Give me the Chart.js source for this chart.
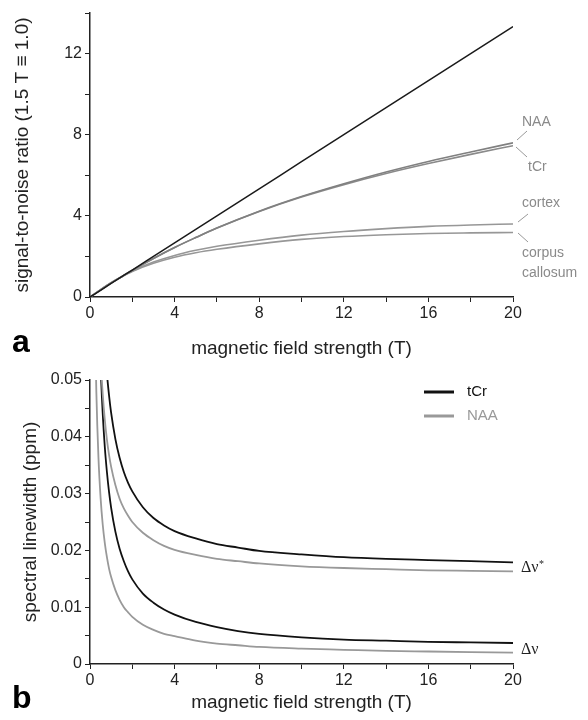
<!DOCTYPE html>
<html>
<head>
<meta charset="utf-8">
<script src="https://cdn.jsdelivr.net/npm/chart.js@4.4.1/dist/chart.umd.min.js"></script>
<style>
  html, body { margin: 0; padding: 0; background: #fff; }
  #wrap { position: relative; width: 588px; height: 720px; }
  .panel { position: absolute; left: 0; width: 588px; height: 360px; }
</style>
</head>
<body>
<div id="wrap">
  <div class="panel" style="top:0"><canvas id="snrChart"></canvas></div>
  <div class="panel" style="top:360px"><canvas id="lwChart"></canvas></div>
</div>
<script>
// panel a: SNR vs field strength
const snrField = [0, 0.5, 1, 1.5, 2, 3, 4, 5, 6, 8, 10, 12, 14, 16, 18, 20];
const snrLinear = [0, 0.33, 0.67, 1, 1.33, 2, 2.67, 3.33, 4, 5.33, 6.67, 8, 9.33, 10.67, 12, 13.33];
const snrNAA = [0, 0.35, 0.69, 1, 1.32, 1.9, 2.44, 2.93, 3.4, 4.23, 4.95, 5.58, 6.16, 6.68, 7.15, 7.6];
const snrTCr = [0, 0.35, 0.69, 1, 1.32, 1.9, 2.44, 2.93, 3.4, 4.22, 4.93, 5.54, 6.09, 6.58, 7.03, 7.46];
const snrCortex = [0, 0.36, 0.71, 1, 1.28, 1.72, 2.05, 2.3, 2.5, 2.8, 3.05, 3.23, 3.37, 3.48, 3.55, 3.6];
const snrCallosum = [0, 0.36, 0.71, 1, 1.26, 1.66, 1.96, 2.18, 2.35, 2.62, 2.84, 2.98, 3.07, 3.13, 3.16, 3.18];

// panel b: linewidth vs field strength
const lwField = [0.25, 0.3, 0.4, 0.5, 0.6, 0.7, 0.8, 0.9, 1, 1.2, 1.4, 1.6, 1.8, 2, 2.5, 3, 3.5, 4, 5, 6, 7, 8, 10, 12, 14, 16, 18, 20];
const lwStarTCr = [0.1272, 0.1087, 0.0857, 0.0718, 0.0626, 0.0560, 0.0511, 0.0473, 0.0442, 0.0396, 0.0363, 0.0338, 0.0319, 0.0304, 0.0276, 0.0257, 0.0244, 0.0234, 0.0221, 0.0211, 0.0205, 0.0199, 0.0193, 0.0188, 0.0185, 0.0183, 0.0181, 0.0179];
const lwStarNAA = [0.0928, 0.0799, 0.0638, 0.0541, 0.0476, 0.0430, 0.0395, 0.0368, 0.0347, 0.0315, 0.0291, 0.0274, 0.0261, 0.0250, 0.0231, 0.0218, 0.0208, 0.0201, 0.0192, 0.0185, 0.0181, 0.0177, 0.0172, 0.0169, 0.0167, 0.0165, 0.0164, 0.0163];
const lwTCr = [0.1028, 0.0860, 0.0651, 0.0526, 0.0442, 0.0382, 0.0338, 0.0303, 0.0275, 0.0233, 0.0203, 0.0181, 0.0163, 0.0149, 0.0124, 0.0108, 0.0096, 0.0087, 0.0074, 0.0065, 0.0058, 0.0053, 0.0047, 0.0043, 0.0041, 0.0039, 0.0038, 0.0037];
const lwNAA = [0.0572, 0.0479, 0.0363, 0.0293, 0.0246, 0.0213, 0.0188, 0.0168, 0.0153, 0.0130, 0.0113, 0.0100, 0.0091, 0.0083, 0.0069, 0.0060, 0.0053, 0.0049, 0.0041, 0.0036, 0.0033, 0.0030, 0.0027, 0.0025, 0.0023, 0.0022, 0.0021, 0.0020];

const FONT = "'Liberation Sans', Arial, sans-serif";
const AXIS = '#222';

function pts(xs, ys) {
  return xs.map((x, i) => ({ x: x, y: ys[i] }));
}

function line(label, xs, ys, color, width) {
  return {
    label: label,
    data: pts(xs, ys),
    borderColor: color,
    backgroundColor: color,
    borderWidth: width,
    pointRadius: 0,
    fill: false,
    cubicInterpolationMode: 'monotone'
  };
}

function xAxis(padBottom, height) {
  return {
    type: 'linear', min: 0, max: 20,
    border: { color: AXIS, width: 1.5 },
    grid: { drawOnChartArea: false, tickLength: 5, color: AXIS },
    ticks: {
      stepSize: 2, autoSkip: false, maxRotation: 0, padding: 2,
      color: '#222', font: { family: FONT, size: 16 },
      callback: v => (v % 4 === 0 ? String(v) : '')
    },
    title: { display: true, text: 'magnetic field strength (T)', color: '#222',
      font: { family: FONT, size: 19 }, padding: { top: 0, bottom: padBottom } },
    afterFit: s => { s.height = height; }
  };
}

// text drawn outside the plot: panel letters, curve labels, legend
const notes = {
  id: 'notes',
  afterDraw(chart, args, opts) {
    const ctx = chart.ctx;
    ctx.save();
    (opts.texts || []).forEach(t => {
      ctx.font = t.font;
      ctx.fillStyle = t.color;
      ctx.textBaseline = t.base || 'middle';
      ctx.textAlign = 'left';
      ctx.fillText(t.text, t.x, t.y);
    });
    (opts.strokes || []).forEach(s => {
      ctx.strokeStyle = s.color;
      ctx.lineWidth = s.width;
      ctx.beginPath();
      ctx.moveTo(s.x1, s.y1);
      ctx.lineTo(s.x2, s.y2);
      ctx.stroke();
    });
    ctx.restore();
  }
};

new Chart(document.getElementById('snrChart'), {
  type: 'line',
  data: {
    datasets: [
      line('linear', snrField, snrLinear, '#1a1a1a', 1.5),
      line('NAA', snrField, snrNAA, '#808080', 1.6),
      line('tCr', snrField, snrTCr, '#8a8a8a', 1.6),
      line('cortex', snrField, snrCortex, '#979797', 1.6),
      line('corpus callosum', snrField, snrCallosum, '#979797', 1.6)
    ]
  },
  options: {
    responsive: true, maintainAspectRatio: false, animation: false,
    layout: { padding: { top: 13, right: 75, bottom: 0, left: 0 } },
    plugins: {
      legend: { display: false }, tooltip: { enabled: false },
      notes: {
        texts: [
          { text: 'a', x: 12, y: 352, base: 'alphabetic', font: "bold 32px " + FONT, color: '#000' },
          { text: 'NAA', x: 522, y: 122, font: '14px ' + FONT, color: '#8a8a8a' },
          { text: 'tCr', x: 528, y: 167, font: '14px ' + FONT, color: '#8a8a8a' },
          { text: 'cortex', x: 522, y: 203, font: '14px ' + FONT, color: '#8a8a8a' },
          { text: 'corpus', x: 522, y: 253, font: '14px ' + FONT, color: '#8a8a8a' },
          { text: 'callosum', x: 522, y: 273, font: '14px ' + FONT, color: '#8a8a8a' }
        ],
        strokes: [
          { x1: 517, y1: 140, x2: 527, y2: 131, color: '#999', width: 1 },
          { x1: 516, y1: 147, x2: 527, y2: 157, color: '#999', width: 1 },
          { x1: 518, y1: 222, x2: 528, y2: 214, color: '#999', width: 1 },
          { x1: 518, y1: 233, x2: 528, y2: 242, color: '#999', width: 1 }
        ]
      }
    },
    scales: {
      x: xAxis(0, 63),
      y: {
        min: 0, max: 14,
        border: { color: AXIS, width: 1.5 },
        grid: { drawOnChartArea: false, tickLength: 5, color: AXIS },
        ticks: {
          stepSize: 2, autoSkip: false, padding: 3,
          color: '#222', font: { family: FONT, size: 16 },
          callback: v => (v % 4 === 0 ? String(v) : '')
        },
        title: { display: true, text: 'signal-to-noise ratio (1.5 T \u2261 1.0)', color: '#222',
          font: { family: FONT, size: 19 }, padding: { top: 11, bottom: 0 } },
        afterFit: s => { s.width = 90; }
      }
    }
  },
  plugins: [notes]
});

new Chart(document.getElementById('lwChart'), {
  type: 'line',
  data: {
    datasets: [
      line('tCr', lwField, lwStarTCr, '#111', 1.8),
      line('NAA', lwField, lwStarNAA, '#999', 1.8),
      line('tCr', lwField, lwTCr, '#111', 1.8),
      line('NAA', lwField, lwNAA, '#999', 1.8)
    ]
  },
  options: {
    responsive: true, maintainAspectRatio: false, animation: false,
    layout: { padding: { top: 20, right: 75, bottom: 0, left: 0 } },
    plugins: {
      legend: { display: false }, tooltip: { enabled: false },
      notes: {
        texts: [
          { text: 'b', x: 12, y: 348, base: 'alphabetic', font: "bold 32px " + FONT, color: '#000' },
          { text: 'tCr', x: 467, y: 32, font: '15px ' + FONT, color: '#111' },
          { text: 'NAA', x: 467, y: 56, font: '15px ' + FONT, color: '#999' },
          { text: '\u0394\u03bd', x: 521, y: 208, font: "16px 'Liberation Serif', serif", color: '#222' },
          { text: '*', x: 539, y: 204, font: "10px 'Liberation Serif', serif", color: '#222' },
          { text: '\u0394\u03bd', x: 521, y: 290, font: "16px 'Liberation Serif', serif", color: '#222' }
        ],
        strokes: [
          { x1: 424, y1: 32, x2: 454, y2: 32, color: '#111', width: 3 },
          { x1: 424, y1: 56, x2: 454, y2: 56, color: '#999', width: 3 }
        ]
      }
    },
    scales: {
      x: xAxis(6, 56),
      y: {
        min: 0, max: 0.05,
        border: { color: AXIS, width: 1.5 },
        grid: { drawOnChartArea: false, tickLength: 5, color: AXIS },
        ticks: {
          stepSize: 0.005, autoSkip: false, padding: 3,
          color: '#222', font: { family: FONT, size: 16 },
          callback: v => {
            const k = Math.round(v * 1000);
            if (k % 10 !== 0) return '';
            return k === 0 ? '0' : (k / 1000).toFixed(2);
          }
        },
        title: { display: true, text: 'spectral linewidth (ppm)', color: '#222',
          font: { family: FONT, size: 19 }, padding: { top: 19, bottom: 0 } },
        afterFit: s => { s.width = 90; }
      }
    }
  },
  plugins: [notes]
});
</script>
</body>
</html>
